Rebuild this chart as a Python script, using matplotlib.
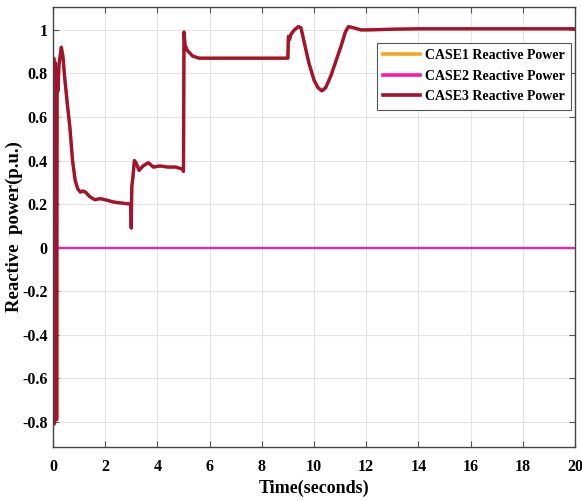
import matplotlib

matplotlib.use("Agg")
import matplotlib.pyplot as plt

# CASE3 reactive power trace, time in seconds
t_case3 = [0.0, 0.015, 0.03, 0.045, 0.06, 0.08, 0.10, 0.12, 0.14, 0.16, 0.19,
           0.23, 0.32, 0.38, 0.45, 0.55, 0.65, 0.75, 0.85, 0.95, 1.05, 1.15,
           1.25, 1.40, 1.60, 1.80, 2.00, 2.30, 2.60, 2.98, 3.00, 3.02, 3.06,
           3.12, 3.18, 3.30, 3.45, 3.65, 3.85, 4.10, 4.40, 4.70, 4.97, 5.00,
           5.02, 5.06, 5.15, 5.35, 5.60, 6.00, 7.00, 8.00, 9.00, 9.02, 9.06,
           9.12, 9.25, 9.40, 9.50, 9.65, 9.80, 10.00, 10.15, 10.30, 10.45,
           10.65, 10.85, 11.05, 11.20, 11.32, 11.50, 11.80, 12.10, 13.00,
           14.00, 16.00, 18.00, 20.00]
q_case3 = [0.0, 0.80, 0.87, -0.81, -0.80, 0.85, -0.78, 0.80, -0.79, 0.82, 0.72,
           0.84, 0.92, 0.88, 0.78, 0.66, 0.55, 0.40, 0.31, 0.27, 0.255, 0.26,
           0.255, 0.235, 0.22, 0.225, 0.22, 0.21, 0.205, 0.20, 0.09, 0.28, 0.32,
           0.40, 0.39, 0.355, 0.375, 0.39, 0.37, 0.375, 0.37, 0.37, 0.36, 0.35,
           0.99, 0.93, 0.905, 0.88, 0.87, 0.87, 0.87, 0.87, 0.87, 0.97, 0.955,
           0.98, 1.0, 1.015, 1.01, 0.93, 0.85, 0.77, 0.735, 0.72, 0.735, 0.79,
           0.86, 0.93, 0.99, 1.015, 1.01, 1.0, 1.0, 1.003, 1.005, 1.005, 1.005,
           1.005]

# CASE1 follows CASE3 (hidden underneath), CASE2 sits at zero
t_case1 = t_case3
q_case1 = q_case3
t_case2 = [0.0, 20.0]
q_case2 = [0.0, 0.0]

x_ticks = [0, 2, 4, 6, 8, 10, 12, 14, 16, 18, 20]
y_ticks = [-0.8, -0.6, -0.4, -0.2, 0, 0.2, 0.4, 0.6, 0.8, 1]

ORANGE = "#f2a81d"
MAGENTA = "#ff1aa6"
DARKRED = "#a3122f"

plt.rcParams.update({
    "font.family": "Liberation Serif",
    "font.weight": "bold",
})

fig = plt.figure(figsize=(5.82, 5.01), dpi=100)
ax = fig.add_axes([0.091, 0.108, 0.897, 0.878])

ax.plot(t_case1, q_case1, color=ORANGE, lw=2.2, label="CASE1 Reactive Power")
ax.plot(t_case2, q_case2, color=MAGENTA, lw=1.6, label="CASE2 Reactive Power")
ax.plot(t_case3, q_case3, color=DARKRED, lw=2.4, label="CASE3 Reactive Power")

ax.set_xlim(0, 20)
ax.set_ylim(-0.915, 1.105)
ax.set_xticks(x_ticks)
ax.set_yticks(y_ticks)
ax.set_xticklabels([str(v) for v in x_ticks])
ax.set_yticklabels([f"{v:g}" for v in y_ticks])
ax.tick_params(direction="in", top=True, right=True, labelsize=11.5, length=4,
               color="#555555")
ax.tick_params(axis="x", pad=9)
ax.tick_params(axis="y", pad=4)
ax.grid(True, color="#e3e3e3", lw=0.8)
ax.set_axisbelow(True)
for s in ax.spines.values():
    s.set_color("#444444")
    s.set_linewidth(1.0)

ax.set_xlabel("Time(seconds)", fontsize=13, fontweight="bold", labelpad=3)
ax.set_ylabel("Reactive  power(p.u.)", fontsize=13.5, fontweight="bold")
ax.yaxis.set_label_coords(-0.058, 0.5)

leg = ax.legend(loc="upper right", bbox_to_anchor=(0.998, 0.925), fontsize=10,
                fancybox=False, edgecolor="#555555", framealpha=1,
                handlelength=2.6, borderpad=0.45, labelspacing=0.55,
                handletextpad=0.4, borderaxespad=0.2)
leg.get_frame().set_linewidth(0.8)
for line in leg.get_lines():
    line.set_linewidth(2.6)

fig.savefig("out.png", dpi=100, facecolor="white")
